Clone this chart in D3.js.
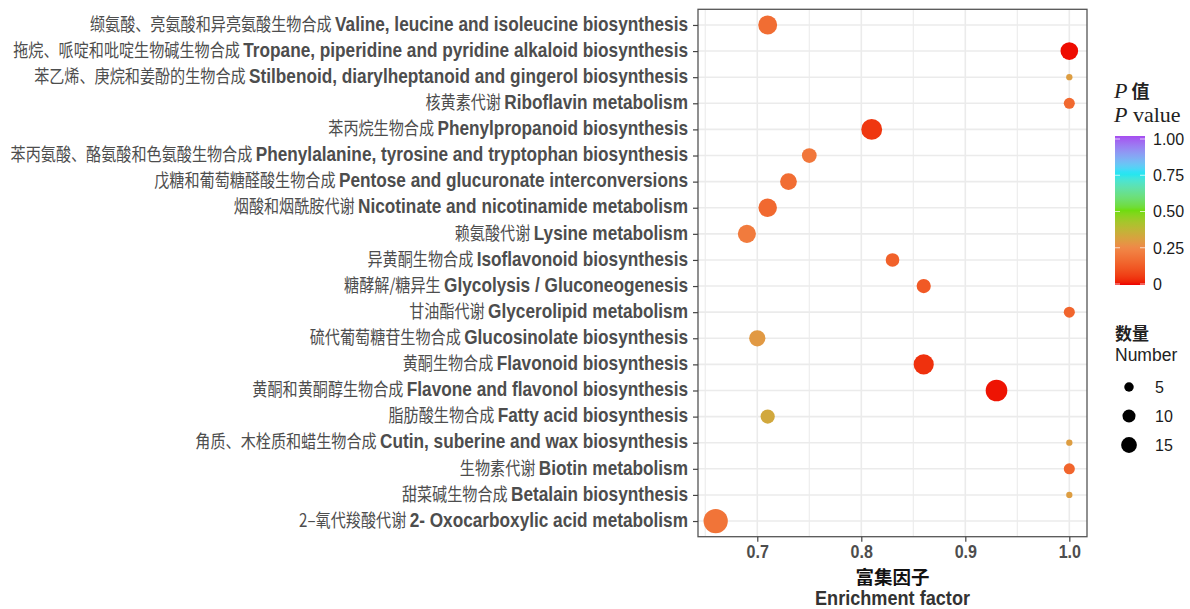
<!DOCTYPE html>
<html>
<head>
<meta charset="utf-8">
<script src="https://cdn.jsdelivr.net/npm/d3@7"></script>
<style>
  html, body { margin: 0; padding: 0; background: #ffffff; }
  svg { display: block; }
</style>
</head>
<body>
<svg id="chart" width="1190" height="609"></svg>
<script>
// ---------------- data ----------------
const pathwayCN = [
  "缬氨酸、亮氨酸和异亮氨酸生物合成",
  "拖烷、哌啶和吡啶生物碱生物合成",
  "苯乙烯、庚烷和姜酚的生物合成",
  "核黄素代谢",
  "苯丙烷生物合成",
  "苯丙氨酸、酪氨酸和色氨酸生物合成",
  "戊糖和葡萄糖醛酸生物合成",
  "烟酸和烟酰胺代谢",
  "赖氨酸代谢",
  "异黄酮生物合成",
  "糖酵解/糖异生",
  "甘油酯代谢",
  "硫代葡萄糖苷生物合成",
  "黄酮生物合成",
  "黄酮和黄酮醇生物合成",
  "脂肪酸生物合成",
  "角质、木栓质和蜡生物合成",
  "生物素代谢",
  "甜菜碱生物合成",
  "2–氧代羧酸代谢"
];
const pathwayEN = [
  "Valine, leucine and isoleucine biosynthesis",
  "Tropane, piperidine and pyridine alkaloid biosynthesis",
  "Stilbenoid, diarylheptanoid and gingerol biosynthesis",
  "Riboflavin metabolism",
  "Phenylpropanoid biosynthesis",
  "Phenylalanine, tyrosine and tryptophan biosynthesis",
  "Pentose and glucuronate interconversions",
  "Nicotinate and nicotinamide metabolism",
  "Lysine metabolism",
  "Isoflavonoid biosynthesis",
  "Glycolysis / Gluconeogenesis",
  "Glycerolipid metabolism",
  "Glucosinolate biosynthesis",
  "Flavonoid biosynthesis",
  "Flavone and flavonol biosynthesis",
  "Fatty acid biosynthesis",
  "Cutin, suberine and wax biosynthesis",
  "Biotin metabolism",
  "Betalain biosynthesis",
  "2- Oxocarboxylic acid metabolism"
];
const enrichmentFactor = [0.71, 1.00, 1.00, 1.00, 0.81, 0.75, 0.73, 0.71, 0.69, 0.83,
                          0.86, 1.00, 0.70, 0.86, 0.93, 0.71, 1.00, 1.00, 1.00, 0.66];
const geneNumber       = [22, 19, 2, 7, 27, 13, 17, 21, 20, 11,
                          12, 7, 16, 25, 29, 12, 2, 7, 2, 37];
const pValue           = [0.17, 0.005, 0.30, 0.16, 0.05, 0.20, 0.17, 0.16, 0.21, 0.14,
                          0.12, 0.15, 0.29, 0.04, 0.01, 0.33, 0.30, 0.15, 0.30, 0.19];
const xTicks = [0.7, 0.8, 0.9, 1.0];
const xMinorTicks = [0.65, 0.75, 0.85, 0.95];
const colorTicks = [0, 0.25, 0.5, 0.75, 1.0];
const colorTickLabels = ["0", "0.25", "0.50", "0.75", "1.00"];
const sizeBreaks = [5, 10, 15];
const colorStops = ["#EE0000", "#F08848", "#6FDC10", "#10E6F6", "#A64CF0"];

// ---------------- layout ----------------
const svg = d3.select("#chart");
const P = { left: 698, right: 1087, top: 9.3, bottom: 536.7 };

const rows = pathwayEN.map((en, i) => ({
  en, cn: pathwayCN[i], x: enrichmentFactor[i], n: geneNumber[i], p: pValue[i]
}));

const xExtent = d3.extent(enrichmentFactor);
const pad = (xExtent[1] - xExtent[0]) * 0.05;
const x = d3.scaleLinear().domain([xExtent[0] - pad, xExtent[1] + pad]).range([P.left, P.right]);
const y = d3.scalePoint().domain(pathwayEN).range([P.top, P.bottom]).padding(0.6);
const r = d3.scaleSqrt().domain(d3.extent(geneNumber)).range([3.15, 12.15]);
const color = d3.scaleLinear().domain(colorTicks).range(colorStops).interpolate(d3.interpolateLab);

// panel background + grid
svg.append("rect").attr("x", P.left).attr("y", P.top)
  .attr("width", P.right - P.left).attr("height", P.bottom - P.top).attr("fill", "#fff");

const grid = svg.append("g");
grid.selectAll(".vminor").data(xMinorTicks).join("line")
  .attr("x1", d => x(d)).attr("x2", d => x(d)).attr("y1", P.top).attr("y2", P.bottom)
  .attr("stroke", "#EDEDED").attr("stroke-width", 1.2);
grid.selectAll(".vmajor").data(xTicks).join("line")
  .attr("x1", d => x(d)).attr("x2", d => x(d)).attr("y1", P.top).attr("y2", P.bottom)
  .attr("stroke", "#EBEBEB").attr("stroke-width", 1.6);
grid.selectAll(".hmajor").data(pathwayEN).join("line")
  .attr("x1", P.left).attr("x2", P.right).attr("y1", d => y(d)).attr("y2", d => y(d))
  .attr("stroke", "#EBEBEB").attr("stroke-width", 1.6);

// points
svg.append("g").selectAll("circle").data(rows).join("circle")
  .attr("cx", d => x(d.x)).attr("cy", d => y(d.en)).attr("r", d => r(d.n))
  .attr("fill", d => color(d.p));

// panel border
svg.append("rect").attr("x", P.left).attr("y", P.top)
  .attr("width", P.right - P.left).attr("height", P.bottom - P.top)
  .attr("fill", "none").attr("stroke", "#555").attr("stroke-width", 1.3);

// x axis
const xAxis = svg.append("g").attr("transform", `translate(0,${P.bottom})`)
  .call(d3.axisBottom(x).tickValues(xTicks).tickFormat(d3.format(".1f")).tickSize(5).tickPadding(3));
xAxis.select(".domain").remove();
xAxis.selectAll(".tick line").attr("stroke", "#444").attr("stroke-width", 1.2);
xAxis.selectAll(".tick text")
  .attr("font-family", "'Liberation Sans', Arial, sans-serif")
  .attr("font-weight", "bold").attr("font-size", 17.5).attr("fill", "#4D4D4D")
  .attr("transform", "scale(0.92,1)").attr("dy", "0.76em");

// y axis ticks
const yAxis = svg.append("g").attr("transform", `translate(${P.left},0)`)
  .call(d3.axisLeft(y).tickSize(5).tickFormat(""));
yAxis.select(".domain").remove();
yAxis.selectAll(".tick line").attr("stroke", "#444").attr("stroke-width", 1.2);

// y labels (Chinese + English)
const ylab = svg.append("g").selectAll("text").data(rows).join("text")
  .attr("transform", d => `translate(${P.left - 10},${y(d.en)}) scale(0.84,1)`)
  .attr("text-anchor", "end").attr("dy", "0.36em");
ylab.append("tspan").text(d => d.cn + " ")
  .attr("font-family", "'Noto Sans CJK SC', sans-serif").attr("font-size", 18)
  .attr("fill", "#4D4D4D");
ylab.append("tspan").text(d => d.en)
  .attr("font-family", "'Liberation Sans', Arial, sans-serif").attr("font-weight", "bold")
  .attr("font-size", 20.5).attr("fill", "#4D4D4D");

// axis titles
const cx = (P.left + P.right) / 2;
svg.append("text").attr("x", cx).attr("y", 584).attr("text-anchor", "middle")
  .attr("font-family", "'Noto Sans CJK SC', sans-serif").attr("font-weight", "bold")
  .attr("font-size", 18.5).attr("fill", "#111").text("富集因子");
svg.append("text").attr("transform", `translate(${cx},605) scale(0.93,1)`).attr("text-anchor", "middle")
  .attr("font-family", "'Liberation Sans', Arial, sans-serif").attr("font-weight", "bold")
  .attr("font-size", 19.5).attr("fill", "#333").text("Enrichment factor");

// ---------------- colour legend ----------------
const leg = svg.append("g");
const t1 = leg.append("text").attr("x", 1114).attr("y", 98);
t1.append("tspan").text("P").attr("font-family", "'Liberation Serif', 'Times New Roman', serif")
  .attr("font-style", "italic").attr("font-size", 22).attr("fill", "#222");
t1.append("tspan").text(" 值").attr("font-family", "'Noto Sans CJK SC', sans-serif")
  .attr("font-weight", "bold").attr("font-size", 18).attr("fill", "#222");
const t2 = leg.append("text").attr("x", 1114).attr("y", 122)
  .attr("font-family", "'Liberation Serif', 'Times New Roman', serif").attr("font-size", 22).attr("fill", "#222");
t2.append("tspan").text("P").attr("font-style", "italic");
t2.append("tspan").text(" value");

const barX = 1115, barW = 30;
const cy = d3.scaleLinear().domain([0, 1]).range([284, 139]);
const defs = svg.append("defs");
const grad = defs.append("linearGradient").attr("id", "pgrad")
  .attr("x1", 0).attr("x2", 0).attr("y1", 1).attr("y2", 0);
d3.range(0, 1.0001, 0.02).forEach(v => {
  grad.append("stop").attr("offset", v).attr("stop-color", color(v));
});
leg.append("rect").attr("x", barX).attr("y", cy(1) - 3).attr("width", barW)
  .attr("height", cy(0) - cy(1) + 4).attr("fill", "url(#pgrad)");
leg.selectAll(".ctickL").data(colorTicks).join("line")
  .attr("x1", barX).attr("x2", barX + 5).attr("y1", d => cy(d)).attr("y2", d => cy(d))
  .attr("stroke", "#fff").attr("stroke-opacity", 0.7).attr("stroke-width", 1);
leg.selectAll(".ctickR").data(colorTicks).join("line")
  .attr("x1", barX + barW - 5).attr("x2", barX + barW).attr("y1", d => cy(d)).attr("y2", d => cy(d))
  .attr("stroke", "#fff").attr("stroke-opacity", 0.7).attr("stroke-width", 1);
leg.selectAll(".clab").data(colorTicks).join("text")
  .attr("x", 1153).attr("y", d => cy(d)).attr("dy", "0.36em")
  .attr("font-family", "'Liberation Sans', Arial, sans-serif").attr("font-size", 16)
  .attr("fill", "#1A1A1A").text((d, i) => colorTickLabels[i]);

// ---------------- size legend ----------------
leg.append("text").attr("x", 1115).attr("y", 340)
  .attr("font-family", "'Noto Sans CJK SC', sans-serif").attr("font-weight", "bold")
  .attr("font-size", 17).attr("fill", "#222").text("数量");
leg.append("text").attr("x", 1115).attr("y", 361)
  .attr("font-family", "'Liberation Sans', Arial, sans-serif")
  .attr("font-size", 17.5).attr("fill", "#222").text("Number");
const sy = d3.scalePoint().domain(sizeBreaks).range([387, 445]);
leg.selectAll(".sdot").data(sizeBreaks).join("circle")
  .attr("cx", 1129).attr("cy", d => sy(d)).attr("r", d => r(d)).attr("fill", "#000");
leg.selectAll(".slab").data(sizeBreaks).join("text")
  .attr("x", 1155).attr("y", d => sy(d)).attr("dy", "0.36em")
  .attr("font-family", "'Liberation Sans', Arial, sans-serif").attr("font-size", 16)
  .attr("fill", "#1A1A1A").text(d => d);
</script>
</body>
</html>
